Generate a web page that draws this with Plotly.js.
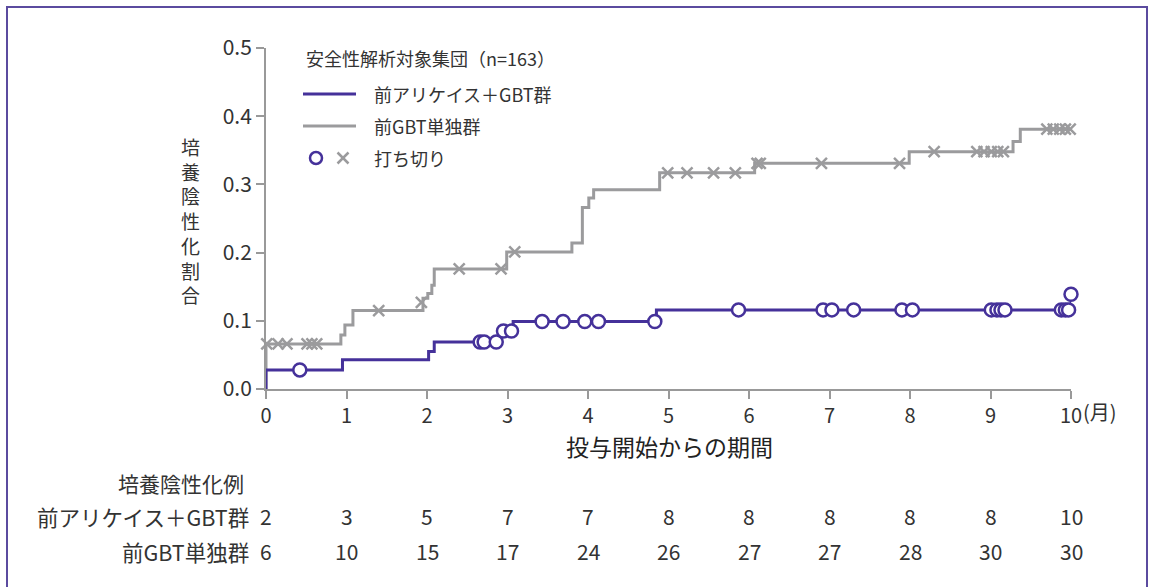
<!DOCTYPE html>
<html>
<head>
<meta charset="utf-8">
<script src="https://cdn.plot.ly/plotly-3.0.1.min.js"></script>
<style>
html,body{margin:0;padding:0;background:#fff;}
#chart{width:1152px;height:587px;}
</style>
</head>
<body>
<div id="chart"></div>
<script>
// ---------------- data ----------------
// 前アリケイス＋GBT群 step curve (months, cumulative proportion)
const purpleStepT = [0, 0, 0.95, 2.02, 2.09, 2.92, 3.07, 4.85, 10.0];
const purpleStepV = [0, 0.028, 0.043, 0.055, 0.069, 0.085, 0.099, 0.116, 0.139];
// 前アリケイス＋GBT群 censored (打ち切り)
const purpleCensT = [0.42, 2.66, 2.71, 2.86, 2.95, 3.05, 3.43, 3.69, 3.96, 4.13, 4.83, 5.87, 6.92, 7.03, 7.30, 7.90, 8.03, 9.01, 9.08, 9.13, 9.18, 9.88, 9.93, 9.97, 10.0];
const purpleCensV = [0.028, 0.069, 0.069, 0.069, 0.085, 0.085, 0.099, 0.099, 0.099, 0.099, 0.099, 0.116, 0.116, 0.116, 0.116, 0.116, 0.116, 0.116, 0.116, 0.116, 0.116, 0.116, 0.116, 0.116, 0.139];

// 前GBT単独群 step curve
const grayStepT = [0, 0, 0.93, 0.98, 1.08, 1.95, 2.01, 2.06, 2.09, 2.99, 3.80, 3.93, 4.01, 4.07, 4.89, 6.07, 7.99, 9.28, 9.37, 10.0];
const grayStepV = [0, 0.066, 0.079, 0.094, 0.115, 0.133, 0.140, 0.152, 0.176, 0.201, 0.214, 0.266, 0.280, 0.292, 0.317, 0.331, 0.348, 0.363, 0.381, 0.381];
// 前GBT単独群 censored
const grayCensT = [0.01, 0.15, 0.26, 0.51, 0.57, 0.63, 1.40, 1.93, 2.40, 2.92, 3.09, 4.99, 5.23, 5.56, 5.83, 6.10, 6.14, 6.90, 7.87, 8.30, 8.83, 8.92, 9.01, 9.09, 9.16, 9.70, 9.78, 9.86, 9.93, 9.99, 10.03];
const grayCensV = [0.066, 0.066, 0.066, 0.066, 0.066, 0.066, 0.115, 0.127, 0.176, 0.176, 0.201, 0.317, 0.317, 0.317, 0.317, 0.331, 0.331, 0.331, 0.331, 0.348, 0.348, 0.348, 0.348, 0.348, 0.348, 0.381, 0.381, 0.381, 0.381, 0.381, 0.381];

// axis ticks
const xTickVals = [0,1,2,3,4,5,6,7,8,9,10];
const xTickText = ["0","1","2","3","4","5","6","7","8","9","10"];
const yTickVals = [0, 0.1, 0.2, 0.3, 0.4, 0.5];
const yTickText = ["0.0","0.1","0.2","0.3","0.4","0.5"];

// texts
const groupNames = ["前アリケイス＋GBT群", "前GBT単独群"];
const legendTitle = "安全性解析対象集団（n=163）";
const censorLabel = "打ち切り";
const yTitle = "培養陰性化割合";
const xTitle = "投与開始からの期間";
const unitLabel = "(月)";
const tableHeader = "培養陰性化例";
const tableMonths = [0,1,2,3,4,5,6,7,8,9,10];
const tablePurple = [2, 3, 5, 7, 7, 8, 8, 8, 8, 8, 10];
const tableGray = [6, 10, 15, 17, 24, 26, 27, 27, 28, 30, 30];

// ---------------- style ----------------
const PURPLE = "#45319a";
const GRAY = "#9b9b9d";
const AXIS = "#999999";
const TXT = "#333333";
const FONT = "'Noto Sans CJK JP', 'Noto Sans', sans-serif";

const L = 266, R = 1071, T = 48, B = 389;
const W = R - L, H = B - T;
const px = (x) => (x - L) / W;
const py = (y) => (B - y) / H;

const traces = [
  {x: grayStepT, y: grayStepV, mode: "lines", line: {shape: "hv", color: GRAY, width: 3}, cliponaxis: false, hoverinfo: "skip"},
  {x: grayCensT, y: grayCensV, mode: "markers", marker: {symbol: "x-thin-open", size: 11, line: {color: GRAY, width: 2.5}, color: GRAY}, cliponaxis: false, hoverinfo: "skip"},
  {x: purpleStepT, y: purpleStepV, mode: "lines", line: {shape: "hv", color: PURPLE, width: 3}, cliponaxis: false, hoverinfo: "skip"},
  {x: purpleCensT, y: purpleCensV, mode: "markers", marker: {symbol: "circle", size: 13, color: "#ffffff", line: {color: PURPLE, width: 2.5}}, cliponaxis: false, hoverinfo: "skip"}
];

const annotations = [];
const shapes = [];

// y title (vertical stacked characters, one annotation)
annotations.push({xref: "paper", yref: "paper", x: px(190), y: py(220), text: yTitle.split("").join("<br>"),
  showarrow: false, font: {family: FONT, size: 19, color: TXT}, xanchor: "center", yanchor: "middle", align: "center"});
// x title
annotations.push({xref: "paper", yref: "paper", x: px(669), y: py(446), text: xTitle,
  showarrow: false, font: {family: FONT, size: 23, color: "#222"}, xanchor: "center", yanchor: "middle"});
// unit
annotations.push({xref: "x", yref: "paper", x: 10, y: py(411), xshift: 10, text: unitLabel,
  showarrow: false, font: {family: FONT, size: 20, color: TXT}, xanchor: "left", yanchor: "middle"});

// legend
annotations.push({xref: "paper", yref: "paper", x: px(304), y: py(58), text: legendTitle,
  showarrow: false, font: {family: FONT, size: 18, color: TXT}, xanchor: "left", yanchor: "middle"});
annotations.push({xref: "paper", yref: "paper", x: px(372), y: py(94), text: groupNames[0],
  showarrow: false, font: {family: FONT, size: 18, color: TXT}, xanchor: "left", yanchor: "middle"});
annotations.push({xref: "paper", yref: "paper", x: px(372), y: py(126), text: groupNames[1],
  showarrow: false, font: {family: FONT, size: 18, color: TXT}, xanchor: "left", yanchor: "middle"});
annotations.push({xref: "paper", yref: "paper", x: px(372), y: py(158), text: censorLabel,
  showarrow: false, font: {family: FONT, size: 18, color: TXT}, xanchor: "left", yanchor: "middle"});
shapes.push({type: "line", xref: "paper", yref: "paper", x0: px(303), x1: px(356), y0: py(94), y1: py(94), line: {color: PURPLE, width: 3}});
shapes.push({type: "line", xref: "paper", yref: "paper", x0: px(303), x1: px(356), y0: py(126), y1: py(126), line: {color: GRAY, width: 3}});
shapes.push({type: "circle", xref: "paper", yref: "paper", xsizemode: "pixel", ysizemode: "pixel",
  xanchor: px(316), yanchor: py(158), x0: -6, x1: 6, y0: -6, y1: 6, line: {color: PURPLE, width: 2.5}, fillcolor: "rgba(0,0,0,0)"});
shapes.push({type: "line", xref: "paper", yref: "paper", xsizemode: "pixel", ysizemode: "pixel",
  xanchor: px(343), yanchor: py(158), x0: -5.5, x1: 5.5, y0: -5.5, y1: 5.5, line: {color: GRAY, width: 2.5}});
shapes.push({type: "line", xref: "paper", yref: "paper", xsizemode: "pixel", ysizemode: "pixel",
  xanchor: px(343), yanchor: py(158), x0: -5.5, x1: 5.5, y0: 5.5, y1: -5.5, line: {color: GRAY, width: 2.5}});

// table
const TFS = 21;
annotations.push({xref: "paper", yref: "paper", x: px(246), y: py(483), text: tableHeader,
  showarrow: false, font: {family: FONT, size: TFS, color: TXT}, xanchor: "right", yanchor: "middle"});
annotations.push({xref: "paper", yref: "paper", x: px(251), y: py(516), text: groupNames[0],
  showarrow: false, font: {family: FONT, size: 21.5, color: TXT}, xanchor: "right", yanchor: "middle"});
annotations.push({xref: "paper", yref: "paper", x: px(251), y: py(551), text: groupNames[1],
  showarrow: false, font: {family: FONT, size: 21.5, color: TXT}, xanchor: "right", yanchor: "middle"});
tableMonths.forEach((m, i) => {
  annotations.push({xref: "x", yref: "paper", x: m, y: py(516), text: String(tablePurple[i]),
    showarrow: false, font: {family: FONT, size: TFS, color: TXT}, xanchor: "center", yanchor: "middle"});
  annotations.push({xref: "x", yref: "paper", x: m, y: py(551), text: String(tableGray[i]),
    showarrow: false, font: {family: FONT, size: TFS, color: TXT}, xanchor: "center", yanchor: "middle"});
});

// frame
shapes.push({type: "rect", xref: "paper", yref: "paper", x0: px(7), x1: px(1147), y0: py(640), y1: py(7),
  line: {color: "#5b4b9f", width: 2}, fillcolor: "rgba(0,0,0,0)", layer: "below"});

const layout = {
  width: 1152, height: 587,
  margin: {l: L, r: 1152 - R, t: T, b: 587 - B, pad: 0},
  paper_bgcolor: "#ffffff", plot_bgcolor: "#ffffff",
  showlegend: false,
  font: {family: FONT, color: TXT},
  xaxis: {range: [0, 10], tickvals: xTickVals, ticktext: xTickText, showgrid: false, zeroline: false,
    showline: true, linecolor: AXIS, linewidth: 2, ticks: "outside", ticklen: 8, tickwidth: 2, tickcolor: AXIS,
    tickfont: {family: FONT, size: 20, color: TXT}, fixedrange: true},
  yaxis: {range: [0, 0.5], tickvals: yTickVals, ticktext: yTickText, showgrid: false, zeroline: false,
    showline: true, linecolor: AXIS, linewidth: 2, ticks: "outside", ticklen: 8, tickwidth: 2, tickcolor: AXIS,
    tickfont: {family: FONT, size: 21, color: TXT}, fixedrange: true},
  annotations: annotations,
  shapes: shapes
};

Plotly.newPlot("chart", traces, layout, {displayModeBar: false, staticPlot: true});
</script>
</body>
</html>
